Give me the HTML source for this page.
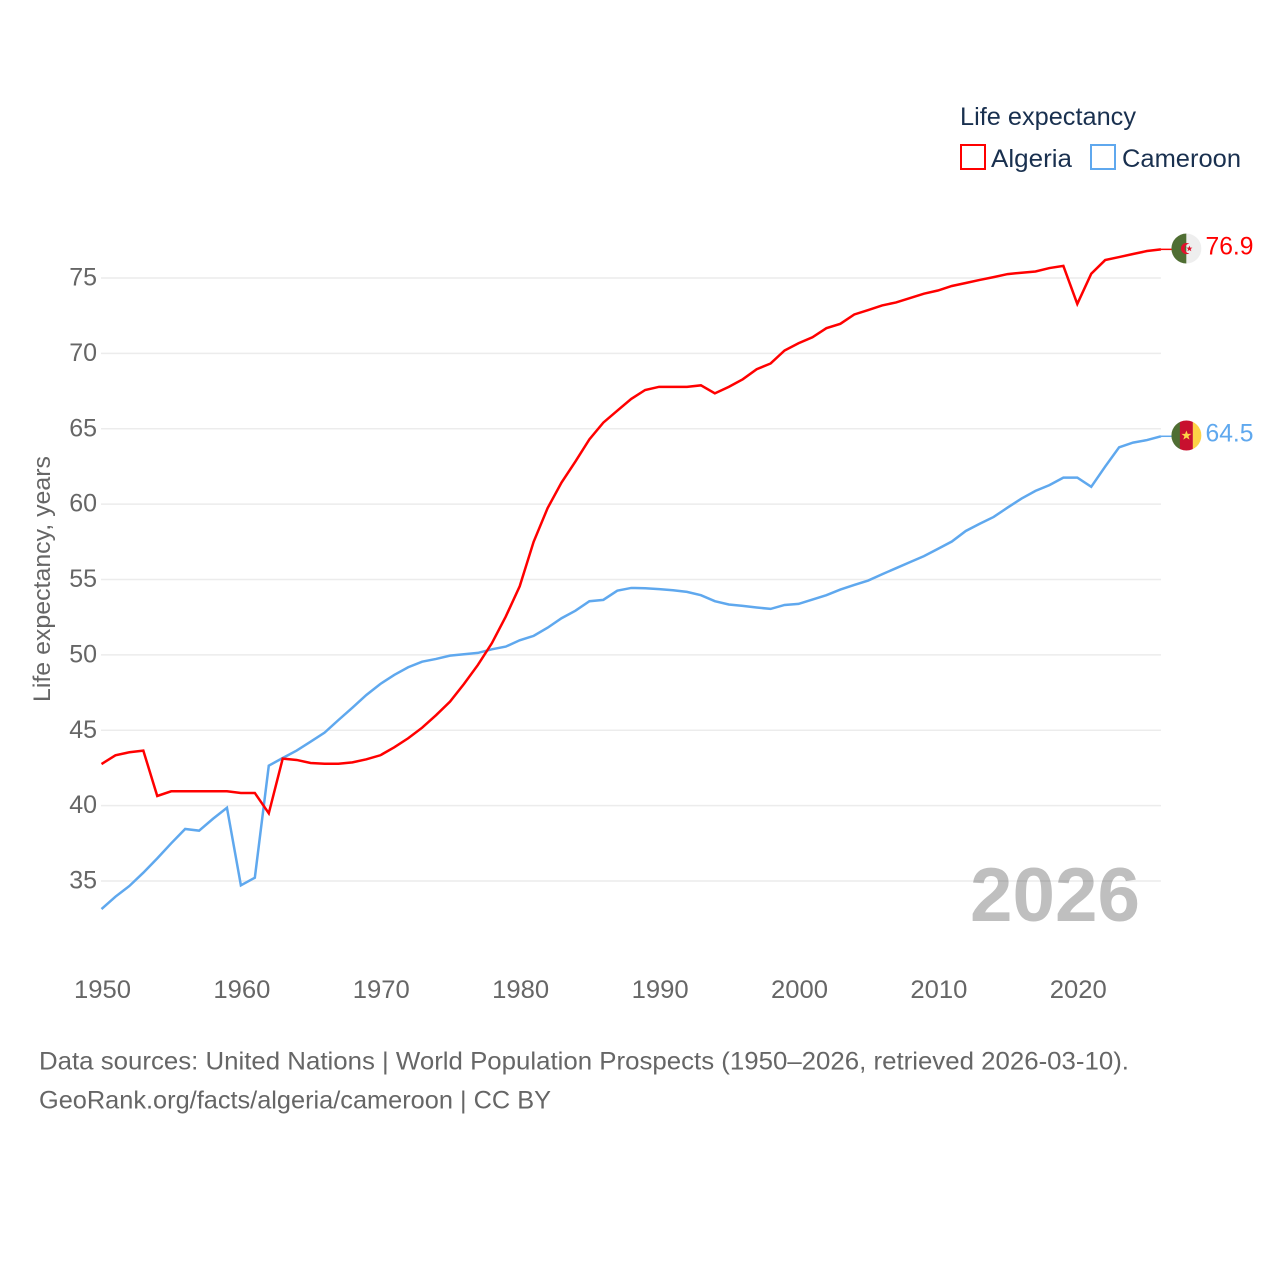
<!DOCTYPE html>
<html lang="en">
<head>
<meta charset="utf-8">
<title>Life expectancy: Algeria and Cameroon</title>
<style>
html,body{margin:0;padding:0;background:#fff;width:1280px;height:1280px;overflow:hidden}
svg{display:block}
text{font-family:"Liberation Sans","DejaVu Sans",sans-serif}
</style>
</head>
<body>
<svg id="chart" xmlns="http://www.w3.org/2000/svg" width="1280" height="1280" viewBox="0 0 1280 1280">
  <defs>
    <clipPath id="flag-clip"><circle cx="0" cy="0" r="15"/></clipPath>
  </defs>
  <rect x="0" y="0" width="1280" height="1280" fill="#fff"/>
  <g id="grid"></g>
  <text x="970" y="921" font-size="76" font-weight="bold" fill="#bfbfbf" style="mix-blend-mode:multiply" textLength="170" lengthAdjust="spacingAndGlyphs">2026</text>
  <g id="y-ticks"></g>
  <g id="x-ticks"></g>
  <text transform="translate(50,702) rotate(-90)" font-size="24" fill="#666" textLength="246" lengthAdjust="spacingAndGlyphs">Life expectancy, years</text>

  <g id="series"></g>

  <g id="flag-algeria">
    <g clip-path="url(#flag-clip)">
      <rect x="-15" y="-15" width="15" height="30" fill="#4f6e33"/>
      <rect x="0" y="-15" width="15" height="30" fill="#eeeeee"/>
      <path d="M3,-4.8 A5.6,5.6 0 1 0 3,4.8 A4.4,4.4 0 1 1 3,-4.8 Z" fill="#e3102c"/>
      <polygon points="3,-3 3.8,-0.9 6,-0.9 4.3,0.5 4.9,2.7 3,1.4 1.1,2.7 1.7,0.5 0,-0.9 2.2,-0.9" fill="#e3102c"/>
    </g>
  </g>
  <g id="flag-cameroon">
    <g clip-path="url(#flag-clip)">
      <rect x="-15" y="-15" width="8.6" height="30" fill="#4f6e33"/>
      <rect x="-6.5" y="-15" width="13" height="30" fill="#c8102e"/>
      <rect x="6.5" y="-15" width="8.5" height="30" fill="#fdd247"/>
      <polygon points="0,-5 1.3,-1.6 5,-1.6 2,0.7 3.1,4.2 0,2.1 -3.1,4.2 -2,0.7 -5,-1.6 -1.3,-1.6" fill="#fdd247"/>
    </g>
  </g>

  <g>
    <text x="960" y="125" font-size="25" fill="#19304f" textLength="176" lengthAdjust="spacingAndGlyphs">Life expectancy</text>
    <g>
      <rect x="961" y="145" width="24" height="24" fill="#fff" stroke="#ff0000" stroke-width="2"/>
      <text x="991" y="167" font-size="25" fill="#19304f" textLength="81" lengthAdjust="spacingAndGlyphs">Algeria</text>
    </g>
    <g>
      <rect x="1091" y="145" width="24" height="24" fill="#fff" stroke="#5fa8ee" stroke-width="2"/>
      <text x="1122" y="167" font-size="25" fill="#19304f" textLength="119" lengthAdjust="spacingAndGlyphs">Cameroon</text>
    </g>
  </g>

  <text x="39" y="1069.5" font-size="25" fill="#666" textLength="1090" lengthAdjust="spacingAndGlyphs">Data sources: United Nations | World Population Prospects (1950–2026, retrieved 2026-03-10).</text>
  <text x="39" y="1108.5" font-size="25" fill="#666" textLength="512" lengthAdjust="spacingAndGlyphs">GeoRank.org/facts/algeria/cameroon | CC BY</text>
</svg>
<script>
const years = [1950,1951,1952,1953,1954,1955,1956,1957,1958,1959,1960,1961,1962,1963,1964,1965,1966,1967,1968,1969,1970,1971,1972,1973,1974,1975,1976,1977,1978,1979,1980,1981,1982,1983,1984,1985,1986,1987,1988,1989,1990,1991,1992,1993,1994,1995,1996,1997,1998,1999,2000,2001,2002,2003,2004,2005,2006,2007,2008,2009,2010,2011,2012,2013,2014,2015,2016,2017,2018,2019,2020,2021,2022,2023,2024,2025,2026];
const algeria = [42.76,43.34,43.54,43.65,40.64,40.95,40.95,40.95,40.95,40.95,40.84,40.84,39.49,43.12,43.03,42.83,42.78,42.78,42.87,43.07,43.34,43.87,44.47,45.17,46.0,46.9,48.07,49.33,50.77,52.54,54.55,57.5,59.73,61.43,62.83,64.3,65.41,66.2,66.98,67.57,67.78,67.78,67.78,67.88,67.35,67.78,68.28,68.95,69.33,70.19,70.67,71.07,71.67,71.96,72.58,72.87,73.18,73.38,73.67,73.96,74.17,74.47,74.67,74.87,75.06,75.26,75.35,75.43,75.66,75.8,73.28,75.28,76.19,76.39,76.59,76.79,76.9];
const cameroon = [33.14,33.96,34.67,35.55,36.5,37.5,38.45,38.34,39.13,39.86,34.71,35.22,42.65,43.16,43.65,44.24,44.84,45.68,46.5,47.34,48.07,48.67,49.18,49.55,49.73,49.95,50.04,50.13,50.37,50.55,50.97,51.26,51.8,52.43,52.93,53.56,53.65,54.26,54.44,54.42,54.36,54.29,54.18,53.96,53.56,53.34,53.25,53.14,53.05,53.31,53.38,53.67,53.96,54.33,54.64,54.93,55.35,55.75,56.15,56.55,57.03,57.52,58.22,58.7,59.15,59.77,60.37,60.88,61.26,61.76,61.76,61.15,62.49,63.77,64.08,64.25,64.5];
const yTickValues = [35,40,45,50,55,60,65,70,75];
const xTickValues = [1950,1960,1970,1980,1990,2000,2010,2020];

const SVG_NS = 'http://www.w3.org/2000/svg';
const xScale = function (year) { return 101.5 + (year - 1950) * 13.94; };
const yScale = function (value) { return 881 - (value - 35) * 15.075; };
const byId = function (id) { return document.getElementById(id); };
const make = function (tag) { return document.createElementNS(SVG_NS, tag); };

yTickValues.forEach(function (tick) {
  const line = make('line');
  
  
  line.setAttribute('x1', xScale(1950) - 0.5);
  line.setAttribute('x2', xScale(2026));
  line.setAttribute('y1', yScale(tick));
  line.setAttribute('y2', yScale(tick));
  line.setAttribute('stroke', '#ececec');
  line.setAttribute('stroke-width', '1.5');
  byId('grid').appendChild(line);

  const label = make('text');
  
  
  label.setAttribute('x', 97);
  label.setAttribute('y', yScale(tick) + 7.5);
  label.setAttribute('text-anchor', 'end');
  label.setAttribute('font-size', '25');
  label.setAttribute('fill', '#666');
  label.textContent = String(tick);
  byId('y-ticks').appendChild(label);
});

xTickValues.forEach(function (tick) {
  const label = make('text');
  
  
  label.setAttribute('x', xScale(tick) + 1);
  label.setAttribute('y', 998);
  label.setAttribute('text-anchor', 'middle');
  label.setAttribute('font-size', '25');
  label.setAttribute('fill', '#666');
  label.setAttribute('textLength', '57');
  label.setAttribute('lengthAdjust', 'spacingAndGlyphs');
  label.textContent = String(tick);
  byId('x-ticks').appendChild(label);
});

function drawSeries(key, values, color, flagId) {
  const points = values.map(function (v, i) { return xScale(years[i]) + ',' + yScale(v); }).join(' ');
  const path = make('polyline');
  
  
  path.setAttribute('points', points);
  path.setAttribute('fill', 'none');
  path.setAttribute('stroke', color);
  path.setAttribute('stroke-width', '2.5');
  path.setAttribute('stroke-linejoin', 'miter');
  byId('series').appendChild(path);

  const last = values[values.length - 1];
  const lastY = yScale(last);
  const connector = make('line');
  
  
  connector.setAttribute('x1', xScale(2026));
  connector.setAttribute('x2', 1172);
  connector.setAttribute('y1', lastY);
  connector.setAttribute('y2', lastY);
  connector.setAttribute('stroke', color);
  connector.setAttribute('stroke-width', '1.5');
  byId('series').appendChild(connector);

  byId(flagId).setAttribute('transform', 'translate(1186.4,' + (lastY - 0.8) + ')');

  const valueLabel = make('text');
  
  
  valueLabel.setAttribute('x', 1205.5);
  valueLabel.setAttribute('y', lastY + 5);
  valueLabel.setAttribute('font-size', '25');
  valueLabel.setAttribute('fill', color);
  valueLabel.setAttribute('textLength', '48');
  valueLabel.setAttribute('lengthAdjust', 'spacingAndGlyphs');
  valueLabel.textContent = last.toFixed(1);
  byId('chart').appendChild(valueLabel);
}

drawSeries('cameroon', cameroon, '#5fa8ee', 'flag-cameroon');
drawSeries('algeria', algeria, '#ff0000', 'flag-algeria');
</script>
</body>
</html>
